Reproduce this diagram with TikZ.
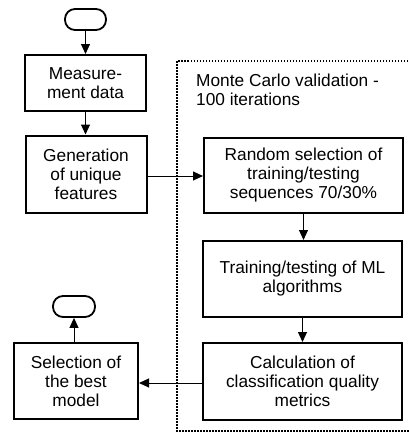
\documentclass[tikz,border=0pt]{standalone}
\usepackage{fontspec}
\setmainfont{Liberation Sans}
\usetikzlibrary{arrows.meta,calc}
\begin{document}
\begin{tikzpicture}[x=1pt,y=1pt,
  every node/.style={font=\fontsize{17.3}{19}\selectfont},
  procbox/.style={draw, line width=2pt, align=center, inner sep=0pt, fill=white},
  terminal/.style={draw, line width=1.8pt, rounded corners=10pt, minimum width=41pt, minimum height=21pt, inner sep=0pt},
  flow/.style={line width=1pt, -{Triangle[width=9pt,length=10pt]}},
  loopframe/.style={line width=1.5pt, dash pattern=on 1.5pt off 1.5pt}
]
\useasboundingbox (0,0) rectangle (409,-432);

% Monte Carlo loop frame
\draw[loopframe] (411,-61) -- (177,-61) -- (177,-431) -- (411,-431);
\node[anchor=north west, align=left, inner sep=0pt] (mclabel) at (196,-74)
  {Monte Carlo validation -\\100 iterations};

% left column
\node[terminal] (start) at (85.5,-19.5) {};
\node[procbox, minimum width=121pt, minimum height=56pt] (meas) at (85.5,-83) {Measure-\\ment data};
\node[procbox, minimum width=121pt, minimum height=77pt] (gen) at (86,-174) {Generation\\of unique\\features};

% loop body
\node[procbox, minimum width=199pt, minimum height=75pt] (rand) at (303.5,-175.5) {Random selection of\\training/testing\\sequences 70/30\%};
\node[procbox, minimum width=199pt, minimum height=76pt] (train) at (302.5,-279) {Training/testing of ML\\algorithms};
\node[procbox, minimum width=199pt, minimum height=77pt] (calc) at (302.5,-381.5) {Calculation of\\classification quality\\metrics};

% result
\node[procbox, minimum width=124pt, minimum height=76pt] (best) at (76,-381) {Selection of\\the best\\model};
\node[terminal, minimum width=42pt] (stop) at (74,-306.5) {};

% connectors
\draw[flow] (start.south) -- (meas.north);
\draw[flow] (meas.south) -- (meas.south |- gen.north);
\draw[flow] ($(gen.east)+(0,-2)$) -- ($(gen.east -| rand.west)+(0,-2)$);
\draw[flow] (rand.south) -- (rand.south |- train.north);
\draw[flow] (train.south) -- (train.south |- calc.north);
\draw[flow] ($(calc.west)+(0,-1.5)$) -- ($(calc.west -| best.east)+(0,-1.5)$);
\draw[flow] (best.north -| stop.south) -- (stop.south);
\end{tikzpicture}
\end{document}
